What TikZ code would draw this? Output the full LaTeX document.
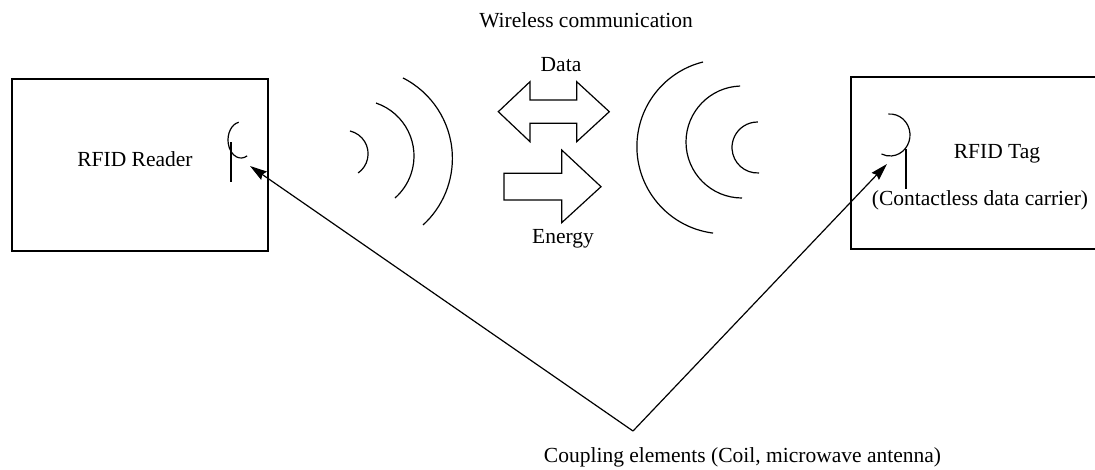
\documentclass[tikz,border=0pt]{standalone}
\usepackage{fontspec}
\setmainfont{Liberation Serif}
\usetikzlibrary{arrows.meta}
\begin{document}
\begin{tikzpicture}[x=1pt,y=-1pt,
  lw/.style={line width=1.2pt},
  box/.style={draw,lw,rectangle,inner sep=0pt},
  lbl/.style={anchor=base,inner sep=0pt,font=\fontsize{21.5}{26}\selectfont},
  wave/.style={lw},
  bigarrow/.style={lw,line join=miter},
  ptr/.style={lw,-{Stealth[length=17pt,width=10pt,inset=2pt]}}]
\useasboundingbox (0,0) rectangle (1095,469);
\clip (0,0) rectangle (1095,469);
% boxes
\node[box,minimum width=256pt,minimum height=172pt] (reader) at (140,165) {};
\node[box,minimum width=250pt,minimum height=172pt] (tag) at (976,163) {};
% labels
\node[lbl] (wl) at (586,27) {Wireless communication};
\node[lbl] (data) at (561,71) {Data};
\node[lbl] (energy) at (563,243) {Energy};
\node[lbl] (rl) at (135,166) {RFID Reader};
\node[lbl] (tl) at (997,158) {RFID Tag};
\node[lbl] (cl) at (980,205) {(Contactless data carrier)};
\node[lbl] (coup) at (742.5,462) {Coupling elements (Coil, microwave antenna)};
% reader antenna
\draw[lw] (241,140) ++(260:13 and 18) arc[start angle=260,end angle=62,x radius=13,y radius=18];
\draw[lw] (231,142) -- (231,182);
% tag antenna
\draw[lw] (890,135) ++(-95:20 and 21) arc[start angle=-95,end angle=115,x radius=20,y radius=21];
\draw[lw] (906,149) -- (906,189);
% left waves
\draw[wave] (344.7,153.8) ++(-77:23.4) arc[start angle=-77,end angle=55,radius=23.4];
\draw[wave] (358.1,156.0) ++(-71.3:55.9) arc[start angle=-71.3,end angle=48.7,radius=55.9];
\draw[wave] (362.2,158.4) ++(-63.1:90.2) arc[start angle=-63.1,end angle=47.6,radius=90.2];
% right waves
\draw[wave] (724.1,146.6) ++(97.3:87.2) arc[start angle=97.3,end angle=256,radius=87.2];
\draw[wave] (742,142) ++(90:56) arc[start angle=90,end angle=268,radius=56];
\draw[wave] (757.5,147.5) ++(86.6:25.5) arc[start angle=86.6,end angle=271,radius=25.5];
% data double arrow
\draw[bigarrow] (498.3,111.7) -- (530,81.7) -- (530,100) -- (576.7,100) -- (576.7,81.7)
  -- (609.3,111.7) -- (576.7,141.7) -- (576.7,123.3) -- (530,123.3) -- (530,141.7) -- cycle;
% energy arrow
\draw[bigarrow] (504,173.3) -- (561.7,173.3) -- (561.7,150) -- (601,186.7)
  -- (561.7,222.7) -- (561.7,200) -- (504,200) -- cycle;
% coupling pointers
\coordinate (hub) at (633,431);
\coordinate (readerant) at (250,166);
\coordinate (tagant) at (887,164);
\draw[ptr] (hub) -- (readerant);
\draw[ptr] (hub) -- (tagant);
\end{tikzpicture}
\end{document}
